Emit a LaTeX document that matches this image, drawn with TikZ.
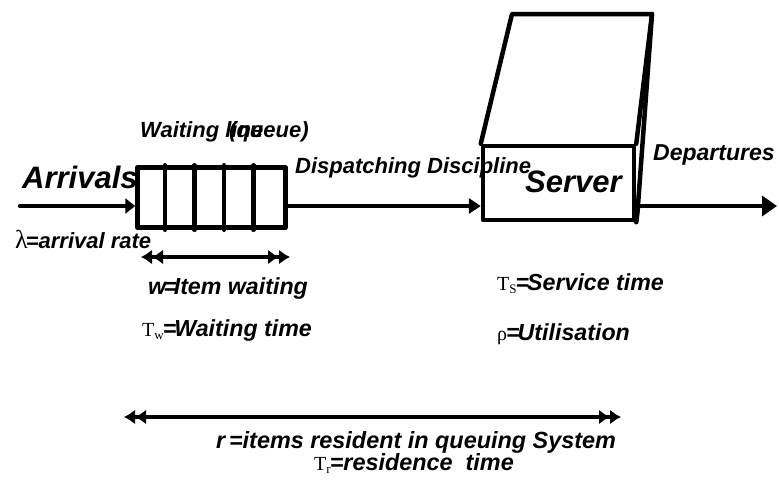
\documentclass[tikz,border=0pt]{standalone}
\usepackage{fontspec}
\setmainfont{Liberation Sans}
\newfontfamily\serif{Liberation Serif}
\usetikzlibrary{arrows.meta}
\newcommand{\sub}[2]{{\serif\upshape\mdseries\fontsize{20}{20}\selectfont #1\raisebox{-3pt}{\fontsize{13}{13}\selectfont #2}}}
\newcommand{\sym}[1]{{\serif\upshape\mdseries #1}}
\begin{document}
\begin{tikzpicture}[x=1pt,y=-1pt,
  lbl/.style={font=\fontsize{22}{24}\selectfont\bfseries\itshape, inner sep=0pt, anchor=base west},
  lbl2/.style={font=\fontsize{23.2}{25}\selectfont\bfseries\itshape, inner sep=0pt, anchor=base west},
  lblc/.style={font=\fontsize{23.4}{25}\selectfont\bfseries\itshape, inner sep=0pt, anchor=base},
  big/.style={font=\fontsize{31}{33}\selectfont\bfseries\itshape, inner sep=0pt, anchor=base west},
  ln/.style={line width=4.5pt, line cap=round, line join=round},
  dtip/.tip={Latex[length=11pt,width=15pt]Latex[length=11pt,width=15pt]},
  boxst/.style={draw, line width=4.5pt, line join=round, inner sep=0pt}]
\useasboundingbox (0,0) rectangle (779,483);
% queue
\node[boxst, minimum width=148pt, minimum height=60pt] (queue) at (211.5,197.5) {};
\foreach \i in {1,...,4}
  \draw[ln] ([xshift=\i*29.6pt]queue.north west) -- ([xshift=\i*29.6pt]queue.south west);
% server
\node[boxst, minimum width=151pt, minimum height=74pt] (server) at (558.5,183) {};
\coordinate (tl) at (512,14);
\coordinate (tr) at (652,14);
\coordinate (sb) at (637.5,212);
\draw[ln] (server.north west) -- (tl) -- (tr) -- (server.north east);
\draw[ln] (tr) -- (sb) -- (server.south east);
% main flow
\coordinate (src) at (20,206);
\coordinate (depstart) at (637,206);
\coordinate (depend) at (777,206);
\draw[ln, -{Triangle[length=10pt,width=15pt]}] (src) -- (queue.west |- src);
\draw[ln, -{Triangle[length=12pt,width=15pt]}] (queue.east |- src) -- (server.west |- src);
\draw[ln, -{Triangle[length=15pt,width=20pt]}] (depstart) -- (depend);
% measure arrows
\coordinate (wl) at (141,257);
\coordinate (wr) at (290,257);
\draw[ln, dtip-dtip] (wl) -- (wr);
\coordinate (rl) at (124,417);
\coordinate (rr) at (621,417);
\draw[ln, dtip-dtip] (rl) -- (rr);
% labels
\node[big] (arr) at (22,188) {Arrivals};
\node[lbl] (wl1) at (140,137) {Waiting line};
\node[lbl] (wl2) at (229,137) {(queue)};
\node[lbl] (disp) at (295,173) {Dispatching Discipline};
\node[big] (srv) at (525,192) {Server};
\node[lbl, font=\fontsize{23}{24}\selectfont\bfseries\itshape] (dep) at (653,160) {Departures};
\node[lbl] (lam) at (15,248) {\sym{\fontsize{26}{26}\selectfont λ}\kern-2pt=arrival rate};
\node[lbl2] (witem) at (148,294) {w\kern-3pt=\kern-3pt Item waiting};
\node[lbl2] (tw) at (142,336) {\sub{T}{w}\kern-1pt=\kern-2pt Waiting time};
\node[lbl2] (ts) at (497,290) {\sub{T}{S}\kern-1pt=\kern-2pt Service time};
\node[lbl2] (rho) at (497,340) {\sym{\fontsize{20}{20}\selectfont ρ}\kern-1pt=\kern-2pt Utilisation};
\node[lblc] (rtxt) at (416,448) {r\,=items resident in queuing System};
\node[lblc] (trtxt) at (414,470) {\sub{T}{r}\kern-1pt=residence\ \ time};
\end{tikzpicture}
\end{document}
